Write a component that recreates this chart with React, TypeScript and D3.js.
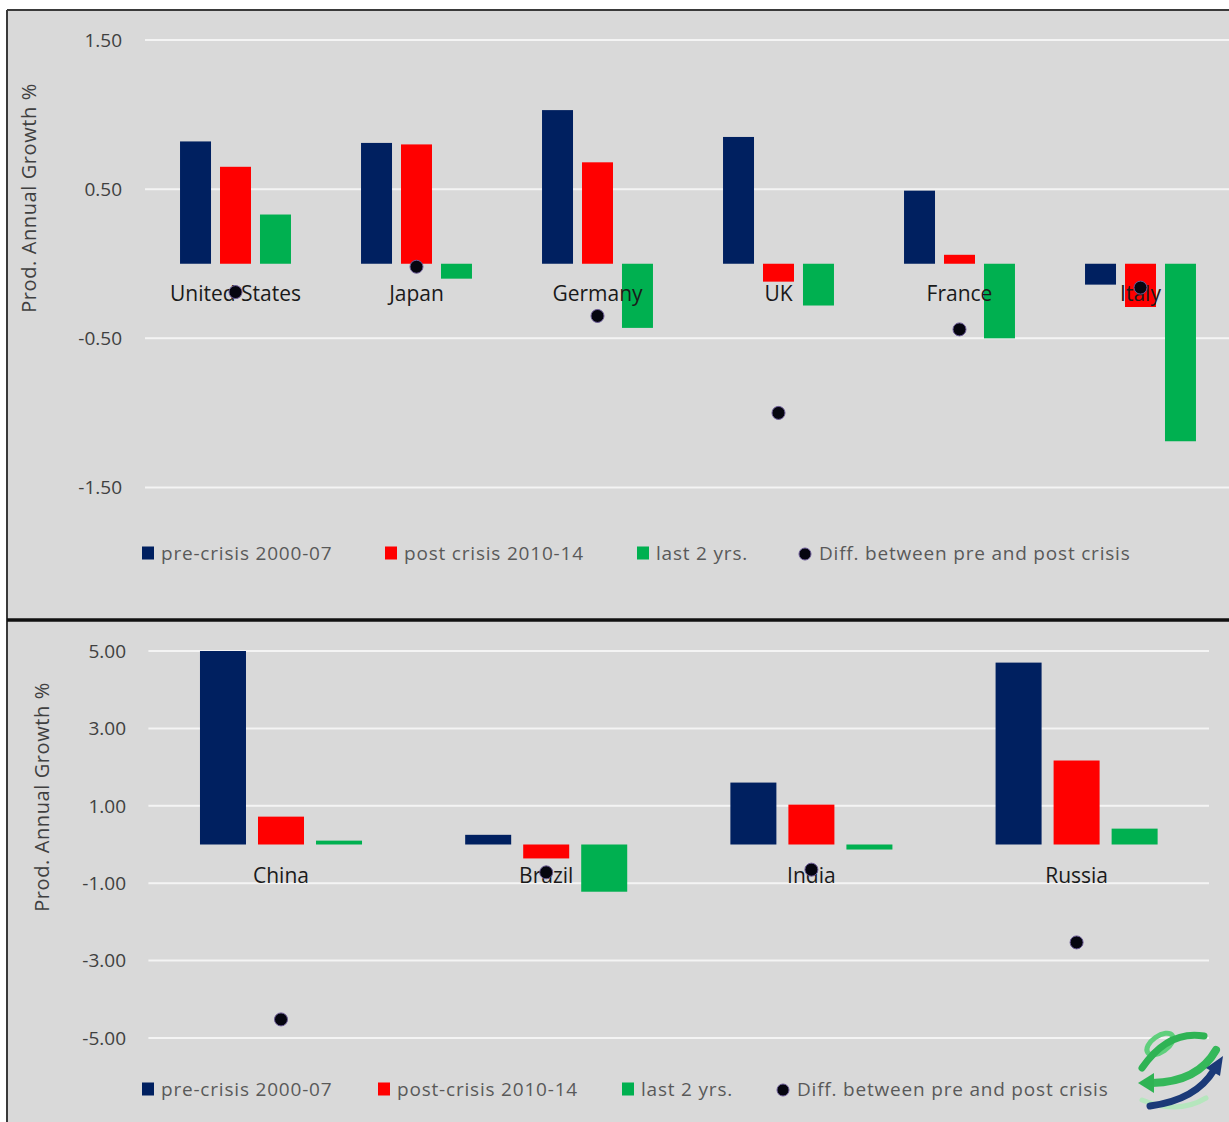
import React from "react";
import { scaleBand, scaleLinear } from "d3";

// ---- data ----
const seriesNames = ["pre", "post", "last2"];
const seriesColors = ["#002060", "#ff0000", "#00b050"];

const topCountries = ["United States", "Japan", "Germany", "UK", "France", "Italy"];
const topPre = [0.82, 0.81, 1.03, 0.85, 0.49, -0.14];
const topPost = [0.65, 0.8, 0.68, -0.12, 0.06, -0.29];
const topLast2 = [0.33, -0.1, -0.43, -0.28, -0.5, -1.19];
const topDiff = [-0.19, -0.02, -0.35, -1.0, -0.44, -0.16];
const topTicks = [1.5, 0.5, -0.5, -1.5];
const topLegend = ["pre-crisis 2000-07", "post crisis 2010-14", "last 2 yrs.", "Diff. between pre and post crisis"];

const botCountries = ["China", "Brazil", "India", "Russia"];
const botPre = [5.0, 0.25, 1.6, 4.7];
const botPost = [0.72, -0.36, 1.03, 2.17];
const botLast2 = [0.1, -1.22, -0.13, 0.41];
const botDiff = [-4.52, -0.72, -0.65, -2.53];
const botTicks = [5, 3, 1, -1, -3, -5];
const botLegend = ["pre-crisis 2000-07", "post-crisis 2010-14", "last 2 yrs.", "Diff. between pre and post crisis"];

const FONT = "'Open Sans', 'DejaVu Sans', sans-serif";
const BG = "#d9d9d9";

interface PanelProps {
  countries: string[];
  values: number[][];
  diff: number[];
  ticks: number[];
  legend: string[];
  legendX: number[];
  legendY: number;
  xRange: [number, number];
  yDomain: [number, number];
  yRange: [number, number];
  groupPad: number;
  barPad: number;
  tickX: number;
  titleX: number;
  titleY: number;
  labelDy: number;
  gridRight: number;
}

const Panel = (p: PanelProps) => {
  const x0 = scaleBand<string>()
    .domain(p.countries)
    .range(p.xRange)
    .paddingInner(p.groupPad)
    .paddingOuter(p.groupPad / 2);
  const x1 = scaleBand<string>()
    .domain(seriesNames)
    .range([0, x0.bandwidth()])
    .paddingInner(p.barPad);
  const y = scaleLinear().domain(p.yDomain).range(p.yRange);
  const y0 = y(0);

  return (
    <g>
      {/* gridlines + tick labels */}
      {p.ticks.map((t) => (
        <g key={t}>
          <line x1={p.xRange[0]} x2={p.gridRight} y1={y(t)} y2={y(t)} stroke="#f4f4f4" strokeWidth={2} />
          <text x={p.tickX} y={y(t)} dy="0.36em" textAnchor="end" fontSize={19} fill="#404040" fontFamily={FONT}>
            {t.toFixed(2)}
          </text>
        </g>
      ))}
      <text
        transform={`translate(${p.titleX},${p.titleY}) rotate(-90)`}
        textAnchor="middle"
        fontSize={20}
        letterSpacing={0.6}
        fill="#404040"
        fontFamily={FONT}
      >
        Prod. Annual Growth %
      </text>
      {/* bars */}
      {p.countries.map((c, i) => (
        <g key={c} transform={`translate(${x0(c)},0)`}>
          {seriesNames.map((s, j) => {
            const v = p.values[j][i];
            const yy = y(v);
            return (
              <rect
                key={s}
                x={x1(s)}
                width={x1.bandwidth()}
                y={Math.min(yy, y0)}
                height={Math.abs(yy - y0)}
                fill={seriesColors[j]}
              />
            );
          })}
        </g>
      ))}
      {/* category labels */}
      {p.countries.map((c) => (
        <text
          key={c}
          x={(x0(c) as number) + x0.bandwidth() / 2}
          y={y0 + p.labelDy}
          textAnchor="middle"
          fontSize={21}
          fill="#1a1a1a"
          fontFamily={FONT}
        >
          {c}
        </text>
      ))}
      {/* diff markers */}
      {p.countries.map((c, i) => (
        <circle
          key={c}
          cx={(x0(c) as number) + x0.bandwidth() / 2}
          cy={y(p.diff[i])}
          r={6.5}
          fill="#05050f"
          stroke="#6a5a96"
          strokeWidth={1}
        />
      ))}
      {/* legend */}
      {p.legend.map((l, i) => (
        <g key={l} transform={`translate(${p.legendX[i]},${p.legendY})`}>
          {i < 3 ? (
            <rect x={0} y={-6.5} width={12} height={13} fill={seriesColors[i]} />
          ) : (
            <circle cx={6} cy={1} r={6} fill="#05050f" stroke="#6a5a96" strokeWidth={1} />
          )}
          <text
            x={i < 3 ? 19 : 20}
            y={0}
            dy="0.35em"
            fontSize={19}
            letterSpacing={0.8}
            fill="#595959"
            fontFamily={FONT}
          >
            {l}
          </text>
        </g>
      ))}
    </g>
  );
};

const Logo = () => (
  <g fill="none" strokeLinecap="round">
    <ellipse cx={1160} cy={1044} rx={15} ry={8} transform="rotate(-35 1160 1044)" stroke="#5fcf7c" strokeWidth={5} />
    <path d="M1142,1068 Q1168,1030 1204,1036" stroke="#2fb354" strokeWidth={7} />
    <path d="M1216,1050 Q1198,1082 1152,1083" stroke="#35b85a" strokeWidth={8} />
    <polygon points="1138,1083 1154,1073 1154,1093" fill="#2fb354" />
    <path d="M1142,1100 Q1178,1115 1206,1098" stroke="#b5e6bd" strokeWidth={5} />
    <path d="M1150,1106 Q1196,1100 1214,1070" stroke="#1b3a78" strokeWidth={7} />
    <polygon points="1223,1056 1206,1068 1220,1076" fill="#1b3a78" />
  </g>
);

export default function App() {
  return (
    <svg
      width={1229}
      height={1122}
      style={{ position: "absolute", left: 0, top: 0, display: "block" }}
    >
      <rect x={0} y={0} width={1229} height={1122} fill="#ffffff" />
      <rect x={7} y={10} width={1230} height={1120} fill={BG} />
      <line x1={7} x2={1229} y1={10} y2={10} stroke="#3a3a3a" strokeWidth={2} />
      <line x1={7} x2={7} y1={10} y2={1122} stroke="#3a3a3a" strokeWidth={2} />
      <line x1={7} x2={1229} y1={620} y2={620} stroke="#111" strokeWidth={3.5} />

      <Panel
        countries={topCountries}
        values={[topPre, topPost, topLast2]}
        diff={topDiff}
        ticks={topTicks}
        legend={topLegend}
        legendX={[142, 385, 637, 799]}
        legendY={553}
        xRange={[145, 1231]}
        yDomain={[-1.5, 1.5]}
        yRange={[487.5, 40]}
        groupPad={0.387}
        barPad={0.225}
        tickX={122}
        titleX={36}
        titleY={198}
        labelDy={37}
        gridRight={1229}
      />
      <Panel
        countries={botCountries}
        values={[botPre, botPost, botLast2]}
        diff={botDiff}
        ticks={botTicks}
        legend={botLegend}
        legendX={[142, 378, 622, 777]}
        legendY={1089}
        xRange={[148.4, 1209.2]}
        yDomain={[-5, 5]}
        yRange={[1038, 651]}
        groupPad={0.389}
        barPad={0.207}
        tickX={126}
        titleX={49}
        titleY={797}
        labelDy={38}
        gridRight={1209}
      />
      <Logo />
    </svg>
  );
}
